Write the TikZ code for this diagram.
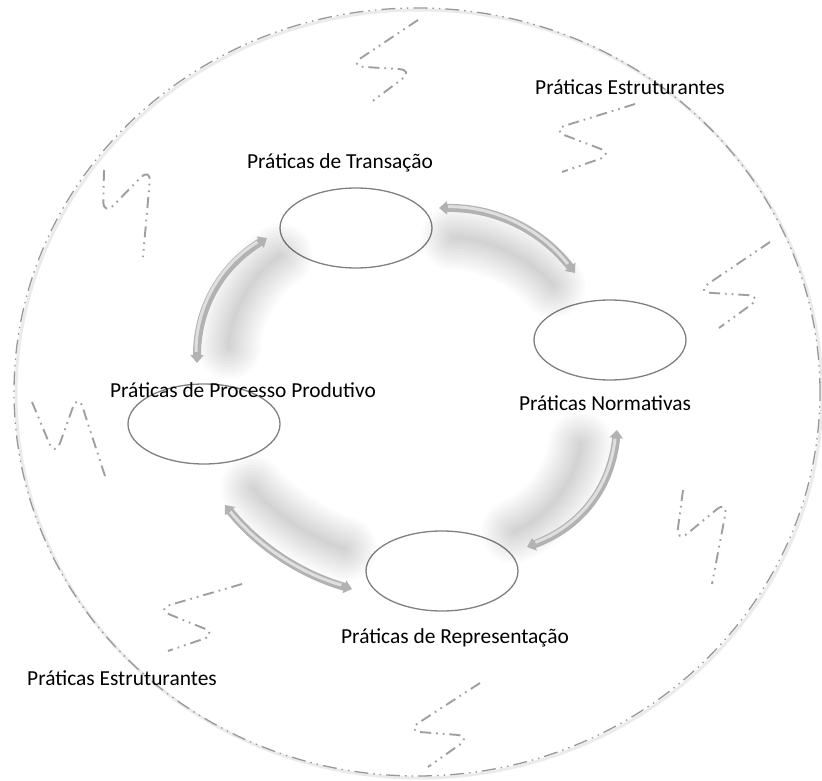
\documentclass[tikz,border=0pt]{standalone}
\usepackage{fontspec}
\setmainfont{Carlito}
\usetikzlibrary{shapes.geometric,arrows.meta,calc}

% soft shadow under a curved flow arrow: shift, start, apex control, end
\newcommand\flowshadow[4]{%
  \foreach \w in {4,10,...,64}{%
    \draw[black, opacity=0.016, line width=\w pt, line cap=round,
          shorten <=22pt, shorten >=22pt,
          transform canvas={shift={#1}}]
      (#2) .. controls ($(#2)!0.667!#3$) and ($(#4)!0.667!#3$) .. (#4);
  }}

% curved two-headed flow arrow: start, apex control, end
\newcommand\flowarrow[3]{%
  \draw[flowbody] (#1) .. controls ($(#1)!0.667!#2$) and ($(#3)!0.667!#2$) .. (#3);
  \draw[flowlight, transform canvas={shift={(-1,-1.2)}}]
    (#1) .. controls ($(#1)!0.667!#2$) and ($(#3)!0.667!#2$) .. (#3);
}

\begin{document}
\begin{tikzpicture}[x=1pt, y=-1pt,
  stage/.style={ellipse, draw=gray, line width=1.3pt,
                minimum width=152pt, minimum height=80pt, inner sep=0pt},
  lbl/.style={font=\fontsize{21.4}{25}\selectfont, text=black, inner sep=0pt},
  ring/.style={ellipse, draw=gray!80, line width=1.3pt, inner sep=0pt,
               dash pattern=on 14pt off 5pt on 1.5pt off 5pt on 1.5pt off 5pt},
  squiggle/.style={draw=gray!75, line width=1.9pt, rounded corners=15pt,
               dash pattern=on 11pt off 5pt on 1.7pt off 5pt on 1.7pt off 5pt},
  flowbody/.style={draw=gray!60, line width=8pt,
               {Triangle[length=8pt,width=13pt]}-{Triangle[length=8pt,width=13pt]}},
  flowlight/.style={draw=gray!25, line width=3pt,
               shorten <=10pt, shorten >=10pt},
]
\useasboundingbox (0,0) rectangle (822,781);
\fill[white] (0,0) rectangle (822,781);

% outer field of structuring practices
\draw[gray!25, line width=3pt, opacity=0.6] (419,394) ellipse [x radius=403, y radius=384];
\node[ring, minimum width=806pt, minimum height=768pt] (field) at (417,392) {};

% dash-dot squiggles scattered over the field
\draw[squiggle] (418,20) -- (349,66) -- (414,70) -- (370,103);
\draw[squiggle] (635,104) -- (551,130) -- (614,154) -- (562,172);
\draw[squiggle] (770,242) -- (696,292) -- (763,296) -- (719,328);
\draw[squiggle] (104,170) -- (103,216) -- (151,167) -- (143,257);
\draw[squiggle] (32,402) -- (55,457) -- (78,393) -- (105,476);
\draw[squiggle] (683,490) -- (676,543) -- (728,500) -- (712,584);
\draw[squiggle] (242,584) -- (156,609) -- (218,634) -- (168,651);
\draw[squiggle] (480,683) -- (406,731) -- (472,736) -- (428,767);

% the four practices
\node[stage] (trans) at (356,228) {};
\node[stage] (norm)  at (610,340) {};
\node[stage] (proc)  at (204,424) {};
\node[stage] (repr)  at (442,571) {};

% arrow end points between the practices
\coordinate (t2n) at (439,208);
\coordinate (n2t) at (575,273);
\coordinate (n2r) at (617,430);
\coordinate (r2n) at (527,547);
\coordinate (r2p) at (352,589);
\coordinate (p2r) at (225,505);
\coordinate (p2t) at (197,363);
\coordinate (t2p) at (267,238);

% shadows first, then the arrows
\flowshadow{(-8,30)}{t2n}{(523,207)}{n2t}
\flowshadow{(32,6)}{p2t}{(197,281)}{t2p}
\flowshadow{(-34,-8)}{n2r}{(608,517)}{r2n}
\flowshadow{(14,-34)}{p2r}{(275,567)}{r2p}

\flowarrow{t2n}{(523,207)}{n2t}
\flowarrow{p2t}{(197,281)}{t2p}
\flowarrow{n2r}{(608,517)}{r2n}
\flowarrow{p2r}{(275,567)}{r2p}

% labels
\node[lbl] (ltrans) at (340,163) {Práticas de Transação};
\node[lbl] (lestr1) at (630,87)  {Práticas Estruturantes};
\node[lbl] (lnorm)  at (605,403) {Práticas Normativas};
\node[lbl] (lproc)  at (243,390) {Práticas de Processo Produtivo};
\node[lbl] (lrepr)  at (455,638) {Práticas de Representação};
\node[lbl] (lestr2) at (122,678) {Práticas Estruturantes};
\end{tikzpicture}
\end{document}
